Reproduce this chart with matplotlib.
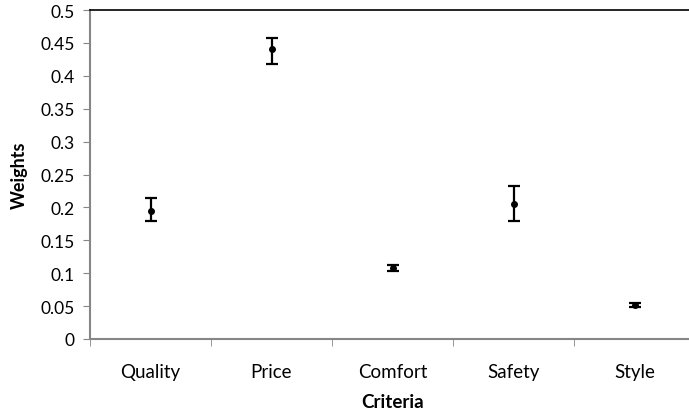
import matplotlib
matplotlib.use("Agg")
import matplotlib.pyplot as plt

criteria = ["Quality", "Price", "Comfort", "Safety", "Style"]
weights = [0.195, 0.440, 0.108, 0.205, 0.052]
err_low = [0.016, 0.022, 0.005, 0.025, 0.003]
err_high = [0.020, 0.017, 0.005, 0.027, 0.003]
yticks = [0, 0.05, 0.1, 0.15, 0.2, 0.25, 0.3, 0.35, 0.4, 0.45, 0.5]

plt.rcParams['font.family'] = ['Lato', 'DejaVu Sans']

fig = plt.figure(figsize=(6.89, 4.14), dpi=100)
# the plot area runs a little past the right edge, like the original
ax = fig.add_axes([90 / 689, (414 - 340) / 414, 605 / 689, 329 / 414])

x = list(range(1, len(criteria) + 1))
ax.errorbar(x, weights, yerr=[err_low, err_high], fmt='o', color='black',
            markersize=4, elinewidth=1.6, capsize=4.5, capthick=1.6)

ax.set_xlim(0.5, len(criteria) + 0.5)
ax.set_ylim(0, 0.5)
ax.set_yticks(yticks)
ax.set_yticklabels([f"{v:g}" for v in yticks])
ax.set_xticks(x)
ax.set_xticklabels(criteria)
ax.set_xticks([i + 0.5 for i in range(len(criteria) + 1)], minor=True)

gray = '#868686'
ax.spines['left'].set_color(gray)
ax.spines['bottom'].set_color(gray)
ax.spines['left'].set_linewidth(1.5)
ax.spines['bottom'].set_linewidth(1.5)
ax.spines['top'].set_color('black')
ax.spines['top'].set_linewidth(1.2)
ax.spines['right'].set_visible(False)

ax.tick_params(axis='y', direction='out', length=5, color=gray, labelsize=12.5, pad=6)
ax.tick_params(axis='x', which='major', length=0, labelsize=13.5, pad=17)
ax.tick_params(axis='x', which='minor', direction='out', length=5, color=gray)

ax.set_ylabel("Weights", fontsize=13, fontweight='bold', labelpad=9)
ax.set_xlabel("Criteria", fontsize=13.5, fontweight='bold', labelpad=10)

fig.savefig("out.png", dpi=100)
